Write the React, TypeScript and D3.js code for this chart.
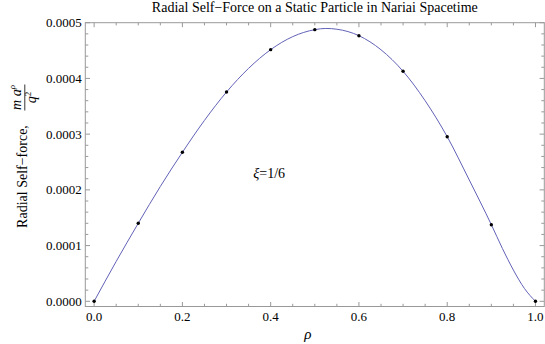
import React from "react";
import * as d3 from "d3";

const pointRho = [0, 0.1, 0.2, 0.3, 0.4, 0.5, 0.6, 0.7, 0.8, 0.9, 1.0];
const pointForce = [0, 0.00014, 0.0002674, 0.0003756, 0.0004516, 0.0004875, 0.0004767, 0.0004128, 0.0002954, 0.0001375, 0];

const curveRho = [0, 0.05, 0.1, 0.15, 0.2, 0.25, 0.3, 0.35, 0.4, 0.45, 0.5, 0.525, 0.55, 0.6, 0.65, 0.7, 0.75, 0.8, 0.85, 0.9, 0.925, 0.95, 0.975, 1.0];
const curveForce = [0, 0.0000716, 0.00014, 0.0002061, 0.0002674, 0.0003247, 0.0003756, 0.0004181, 0.0004516, 0.000475, 0.0004875, 0.0004897, 0.0004883, 0.0004767, 0.0004514, 0.0004128, 0.00036, 0.0002954, 0.0002177, 0.0001375, 0.000095, 0.000056, 0.000023, 0];

const xMajor = [0, 0.2, 0.4, 0.6, 0.8, 1.0];
const yMajor = [0, 0.0001, 0.0002, 0.0003, 0.0004, 0.0005];

const title = "Radial Self\u2212Force on a Static Particle in Nariai Spacetime";
const yLabelText = "Radial Self\u2212force,";

const FONT = "'Liberation Serif', 'Times New Roman', Times, serif";
const FRAME = "#999999";

export default function App() {
  const W = 545, H = 344;
  const fx0 = 85.3, fx1 = 544.3, fy0 = 306.5, fy1 = 22.7;
  const x = d3.scaleLinear().domain([-0.02, 1.02]).range([fx0, fx1]);
  const y = d3.scaleLinear().domain([0, 0.0005]).range([301.3, fy1]);

  const xMinor = d3.range(0, 1.0001, 0.05).filter(v => !xMajor.some(m => Math.abs(m - v) < 1e-9));
  const yMinor = d3.range(0, 0.00050001, 0.00002).filter(v => !yMajor.some(m => Math.abs(m - v) < 1e-12));

  const line = d3.line<number>()
    .x((_, i) => x(curveRho[i]))
    .y(d => y(d))
    .curve(d3.curveMonotoneX);

  const fmtY = d3.format(".4f");
  const fmtX = d3.format(".1f");
  const ts = { fontFamily: FONT } as React.CSSProperties;

  return (
    <svg width={W} height={H} style={{ position: "absolute", left: 0, top: 0, background: "#fff", fontFamily: FONT }}>
      <rect x={0} y={0} width={W} height={H} fill="#fff" />
      <text style={ts} x={(fx0 + fx1) / 2} y={12} textAnchor="middle" fontSize={14} fill="#000">{title}</text>

      <rect x={fx0} y={fy1} width={fx1 - fx0} height={fy0 - fy1} fill="none" stroke={FRAME} strokeWidth={1} />

      {xMajor.map(v => (
        <g key={"xM" + v}>
          <line x1={x(v)} x2={x(v)} y1={fy0} y2={fy0 - 4.5} stroke={FRAME} />
          <line x1={x(v)} x2={x(v)} y1={fy1} y2={fy1 + 4.5} stroke={FRAME} />
          <text style={ts} x={x(v)} y={320.5} textAnchor="middle" fontSize={13} fill="#000">{fmtX(v)}</text>
        </g>
      ))}
      {xMinor.map(v => (
        <g key={"xm" + v}>
          <line x1={x(v)} x2={x(v)} y1={fy0} y2={fy0 - 2.7} stroke={FRAME} />
          <line x1={x(v)} x2={x(v)} y1={fy1} y2={fy1 + 2.7} stroke={FRAME} />
        </g>
      ))}

      {yMajor.map(v => (
        <g key={"yM" + v}>
          <line x1={fx0} x2={fx0 + 4.7} y1={y(v)} y2={y(v)} stroke={FRAME} />
          <line x1={fx1} x2={fx1 - 4.7} y1={y(v)} y2={y(v)} stroke={FRAME} />
          <text style={ts} x={81.7} y={y(v)} dy="0.35em" textAnchor="end" fontSize={13} fill="#000">{fmtY(v)}</text>
        </g>
      ))}
      {yMinor.map(v => (
        <g key={"ym" + v}>
          <line x1={fx0} x2={fx0 + 3} y1={y(v)} y2={y(v)} stroke={FRAME} />
          <line x1={fx1} x2={fx1 - 3} y1={y(v)} y2={y(v)} stroke={FRAME} />
        </g>
      ))}

      <path d={line(curveForce) || ""} fill="none" stroke="#6262b8" strokeWidth={1} />

      {pointForce.map((v, i) => (
        <circle key={"p" + i} cx={x(pointRho[i])} cy={y(v)} r={1.7} fill="#000" />
      ))}

      <text style={ts} x={253.3} y={178} fontSize={14} fill="#000">
        <tspan fontStyle="italic">{"\u03BE"}</tspan>
        <tspan>=1/6</tspan>
      </text>

      <text style={ts} x={(fx0 + fx1) / 2 - 7} y={339} textAnchor="middle" fontSize={15} fontStyle="italic" fill="#000">{"\u03C1"}</text>

      <g transform="rotate(-90)">
        <text style={ts} x={-176.5} y={26.5} textAnchor="middle" fontSize={14} fill="#000">{yLabelText}</text>
        <text style={ts} x={-97.5} y={20.5} textAnchor="middle" fontSize={14} fontStyle="italic" fill="#000">
          m a<tspan fontSize={9} dy={-5.5}>{"\u03C1"}</tspan>
        </text>
        <line x1={-110.5} x2={-84.5} y1={24.8} y2={24.8} stroke="#000" strokeWidth={0.8} />
        <text style={ts} x={-97.5} y={36} textAnchor="middle" fontSize={14} fill="#000">
          <tspan fontStyle="italic">q</tspan><tspan fontSize={9} dy={-5.5}>2</tspan>
        </text>
      </g>
    </svg>
  );
}
